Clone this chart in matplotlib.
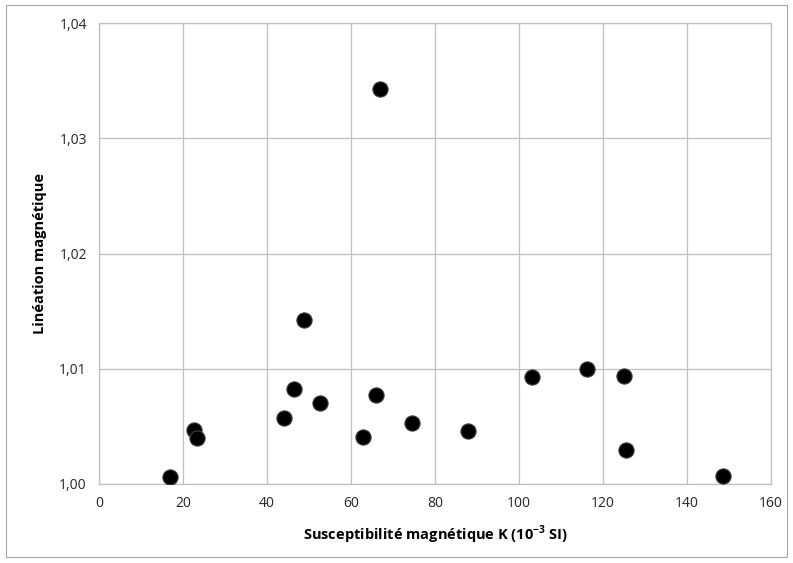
import matplotlib
matplotlib.use("Agg")
import matplotlib.pyplot as plt
from matplotlib.patches import Rectangle
from matplotlib.ticker import FuncFormatter

susceptibility = [16.9, 22.6, 23.3, 44.0, 46.4, 52.6, 48.8, 66.8, 66.0, 62.9,
                  74.4, 87.9, 103.1, 116.2, 125.1, 125.6, 148.6]
lineation = [1.0006, 1.0047, 1.0040, 1.0057, 1.0082, 1.0070, 1.0142, 1.0343, 1.0077, 1.0041,
             1.0053, 1.0046, 1.0093, 1.0100, 1.0094, 1.0029, 1.0007]

x_ticks = [0, 20, 40, 60, 80, 100, 120, 140, 160]
y_ticks = [1.00, 1.01, 1.02, 1.03, 1.04]

plt.rcParams['font.family'] = ['Open Sans', 'DejaVu Sans']

fig = plt.figure(figsize=(7.93, 5.63), dpi=100)
fig.patches.append(Rectangle((6/793, 1-557/563), 781/793, 552/563, transform=fig.transFigure,
                             fill=False, edgecolor='#A6A6A6', linewidth=0.8))
ax = fig.add_axes([99.3/793, 1-483.7/563, 671.4/793, 460.4/563])
ax.scatter(susceptibility, lineation, s=120, color='black', edgecolors='#404040',
           linewidths=0.8, zorder=3)
ax.set_xlim(0, 160)
ax.set_ylim(1.00, 1.04)
ax.set_xticks(x_ticks)
ax.set_yticks(y_ticks)
ax.yaxis.set_major_formatter(FuncFormatter(lambda v, p: f"{v:.2f}".replace('.', ',')))
ax.grid(True, color='#BFBFBF', linewidth=0.9)
ax.set_axisbelow(True)
for s in ax.spines.values():
    s.set_color('#BFBFBF')
    s.set_linewidth(0.9)
ax.tick_params(length=0, labelsize=10, colors='#262626', pad=9)
ax.set_xlabel("Susceptibilité magnétique K (10$^{\\mathregular{-3}}$ SI)", fontsize=10.5,
              fontweight='bold', labelpad=9)
ax.set_ylabel("Linéation magnétique", fontsize=10.5, fontweight='bold', labelpad=9)
fig.savefig("out.png", dpi=100)
